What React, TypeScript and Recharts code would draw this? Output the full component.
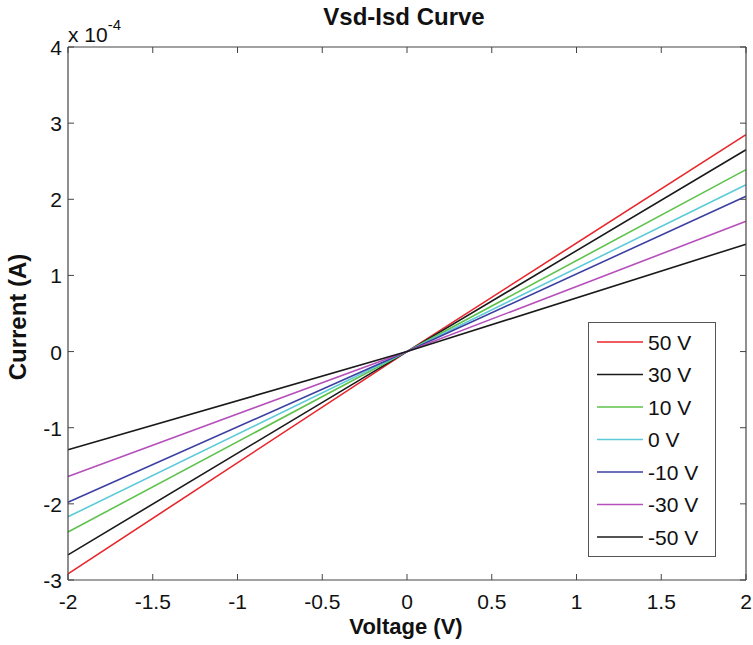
import React from 'react';
import { LineChart, Line, XAxis, YAxis } from 'recharts';

// Gate voltage series, current in units of 1e-4 A
const voltages = [-2, 0, 2];
const seriesNames = ['50 V', '30 V', '10 V', '0 V', '-10 V', '-30 V', '-50 V'];
const s50 = [-2.92, 0, 2.85];
const s30 = [-2.67, 0, 2.65];
const s10 = [-2.37, 0, 2.39];
const s0 = [-2.17, 0, 2.19];
const sm10 = [-1.98, 0, 2.04];
const sm30 = [-1.64, 0, 1.71];
const sm50 = [-1.29, 0, 1.41];
const seriesValues = [s50, s30, s10, s0, sm10, sm30, sm50];
const seriesColors = ['#e8262b', '#1a1a1a', '#5fc24d', '#5ccad8', '#3b40a2', '#b54fbb', '#1a1a1a'];
const xTicks = [-2, -1.5, -1, -0.5, 0, 0.5, 1, 1.5, 2];
const yTicks = [-3, -2, -1, 0, 1, 2, 3, 4];

const data = voltages.map((v, i) => {
  const row: Record<string, number> = { v };
  seriesNames.forEach((n, k) => {
    row[n] = seriesValues[k][i];
  });
  return row;
});

const FONT = "'Liberation Sans', Arial, sans-serif";
const AXIS = '#444';

const fmt = (t: number) => String(t);

const BottomTick = (props: any) => {
  const { x, y, payload } = props;
  return (
    <g>
      <line x1={x} x2={x} y1={y} y2={y - 6} stroke={AXIS} strokeWidth={1} />
      <text x={x} y={y + 29} textAnchor="middle" fontSize={21} fontFamily={FONT} fill="#111">
        {fmt(payload.value)}
      </text>
    </g>
  );
};
const TopTick = (props: any) => {
  const { x, y } = props;
  return <line x1={x} x2={x} y1={y} y2={y + 6} stroke={AXIS} strokeWidth={1} />;
};
const LeftTick = (props: any) => {
  const { x, y, payload } = props;
  return (
    <g>
      <line x1={x} x2={x + 6} y1={y} y2={y} stroke={AXIS} strokeWidth={1} />
      <text x={x - 6} y={y + 8} textAnchor="end" fontSize={21} fontFamily={FONT} fill="#111">
        {fmt(payload.value)}
      </text>
    </g>
  );
};
const RightTick = (props: any) => {
  const { x, y } = props;
  return <line x1={x} x2={x - 6} y1={y} y2={y} stroke={AXIS} strokeWidth={1} />;
};

const LegendBox = () => {
  const rowH = 32.5;
  const h = 235;
  return (
    <svg width={128} height={h} style={{ display: 'block' }}>
      <rect x={0.5} y={0.5} width={127} height={h - 1} fill="#fff" stroke="#555" strokeWidth={1} />
      {seriesNames.map((n, i) => {
        const cy = 20 + i * rowH;
        return (
          <g key={n}>
            <line x1={9} x2={55} y1={cy} y2={cy} stroke={seriesColors[i]} strokeWidth={1.6} />
            <text x={60} y={cy + 7.5} fontSize={21} fontFamily={FONT} fill="#111">
              {n}
            </text>
          </g>
        );
      })}
    </svg>
  );
};

export default function App() {
  return (
    <div style={{ position: 'absolute', left: 0, top: 0, width: 753, height: 645, background: '#fff', fontFamily: FONT }}>
      <LineChart
        width={753}
        height={645}
        data={data}
        margin={{ top: 46, right: 6, bottom: 5, left: 8 }}
      >
        <XAxis
          xAxisId="b"
          dataKey="v"
          type="number"
          domain={[-2, 2]}
          ticks={xTicks}
          orientation="bottom"
          height={60}
          tickSize={0}
          tickMargin={0}
          tickLine={false}
          axisLine={{ stroke: AXIS, strokeWidth: 1.2 }}
          tick={<BottomTick />}
          interval={0}
        />
        <XAxis
          xAxisId="t"
          dataKey="v"
          type="number"
          domain={[-2, 2]}
          ticks={xTicks}
          orientation="top"
          height={1}
          tickSize={0}
          tickMargin={0}
          tickLine={false}
          axisLine={{ stroke: AXIS, strokeWidth: 1.2 }}
          tick={<TopTick />}
          interval={0}
        />
        <YAxis
          yAxisId="l"
          type="number"
          domain={[-3, 4]}
          ticks={yTicks}
          orientation="left"
          width={60}
          tickSize={0}
          tickMargin={0}
          tickLine={false}
          axisLine={{ stroke: AXIS, strokeWidth: 1.2 }}
          tick={<LeftTick />}
          interval={0}
        />
        <YAxis
          yAxisId="r"
          type="number"
          domain={[-3, 4]}
          ticks={yTicks}
          orientation="right"
          width={1}
          tickSize={0}
          tickMargin={0}
          tickLine={false}
          axisLine={{ stroke: AXIS, strokeWidth: 1.2 }}
          tick={<RightTick />}
          interval={0}
        />
        {seriesNames.map((n, i) => (
          <Line
            key={n}
            xAxisId="b"
            yAxisId="l"
            type="linear"
            dataKey={n}
            stroke={seriesColors[i]}
            strokeWidth={1.6}
            dot={false}
            isAnimationActive={false}
          />
        ))}
        {/* keep right/top axes bound to the plot */}
        <Line xAxisId="t" yAxisId="r" dataKey="v" stroke="none" dot={false} isAnimationActive={false} legendType="none" />
      </LineChart>
      <div style={{ position: 'absolute', left: 588, top: 322 }}>
        <LegendBox />
      </div>
      <div style={{ position: 'absolute', left: 204, width: 400, top: 3, textAlign: 'center', fontWeight: 'bold', fontSize: 24, color: '#111', lineHeight: '28px' }}>
        Vsd-Isd Curve
      </div>
      <div style={{ position: 'absolute', left: 68, top: 17, fontSize: 21, color: '#111', lineHeight: '24px', whiteSpace: 'nowrap' }}>
        x 10<sup style={{ fontSize: 15, position: 'relative', top: -4 }}>-4</sup>
      </div>
      <div style={{ position: 'absolute', left: 206, width: 400, top: 614, textAlign: 'center', fontWeight: 'bold', fontSize: 22, color: '#111', lineHeight: '26px' }}>
        Voltage (V)
      </div>
      <div style={{ position: 'absolute', left: 18, top: 317, transform: 'translate(-50%, -50%) rotate(-90deg)', fontWeight: 'bold', fontSize: 24, color: '#111', whiteSpace: 'nowrap', lineHeight: '28px' }}>
        Current (A)
      </div>
    </div>
  );
}
